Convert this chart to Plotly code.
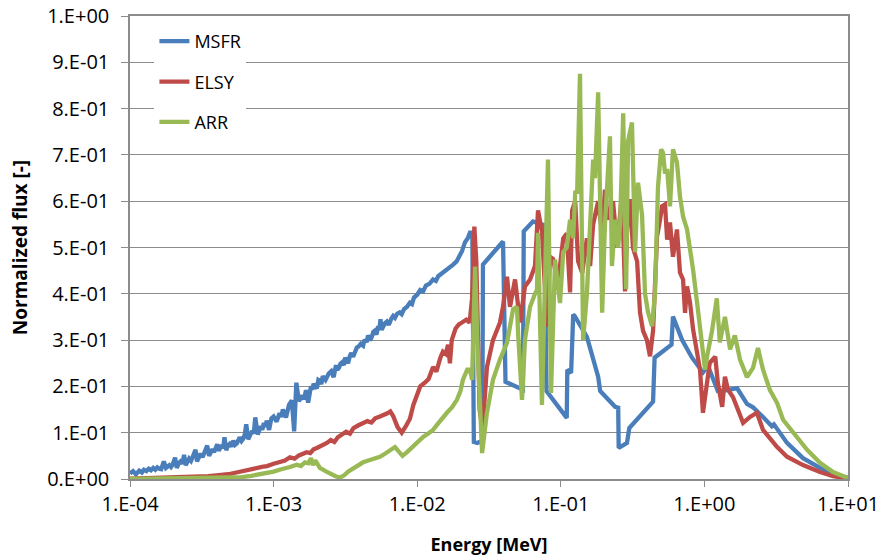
import plotly.graph_objects as go

# Neutron flux spectra (energy in MeV, flux normalised to the spectrum maximum)
msfr_energy = [
    1.00e-4, 1.05e-4, 1.10e-4, 1.16e-4, 1.21e-4, 1.25e-4, 1.30e-4, 1.35e-4, 1.40e-4, 1.45e-4,
    1.50e-4, 1.55e-4, 1.60e-4, 1.65e-4, 1.72e-4, 1.78e-4, 1.83e-4, 1.88e-4, 1.93e-4, 1.98e-4,
    2.06e-4, 2.12e-4, 2.18e-4, 2.25e-4, 2.32e-4, 2.38e-4, 2.44e-4, 2.51e-4, 2.58e-4, 2.66e-4,
    2.75e-4, 2.86e-4, 2.93e-4, 3.02e-4, 3.10e-4, 3.20e-4, 3.30e-4, 3.45e-4, 3.55e-4, 3.65e-4,
    3.75e-4, 3.85e-4, 3.95e-4, 4.05e-4, 4.15e-4, 4.25e-4, 4.35e-4, 4.45e-4, 4.55e-4, 4.68e-4,
    4.80e-4, 4.95e-4, 5.10e-4, 5.25e-4, 5.40e-4, 5.55e-4, 5.68e-4, 5.80e-4, 5.98e-4, 6.15e-4,
    6.30e-4, 6.45e-4, 6.65e-4, 6.88e-4, 7.10e-4, 7.28e-4, 7.45e-4, 7.75e-4, 7.95e-4, 8.15e-4,
    8.35e-4, 8.55e-4, 8.75e-4, 8.95e-4, 9.30e-4, 9.65e-4, 1.00e-3, 1.05e-3, 1.10e-3, 1.13e-3,
    1.16e-3, 1.22e-3, 1.28e-3, 1.34e-3, 1.39e-3, 1.44e-3, 1.50e-3, 1.54e-3, 1.58e-3, 1.63e-3,
    1.68e-3, 1.74e-3, 1.82e-3, 1.86e-3, 1.90e-3, 1.95e-3, 2.00e-3, 2.05e-3, 2.10e-3, 2.15e-3,
    2.20e-3, 2.30e-3, 2.36e-3, 2.42e-3, 2.52e-3, 2.62e-3, 2.72e-3, 2.78e-3, 2.85e-3, 2.92e-3,
    3.00e-3, 3.08e-3, 3.15e-3, 3.22e-3, 3.30e-3, 3.40e-3, 3.48e-3, 3.58e-3, 3.70e-3, 3.80e-3,
    3.90e-3, 4.05e-3, 4.20e-3, 4.30e-3, 4.45e-3, 4.55e-3, 4.70e-3, 4.80e-3, 4.95e-3, 5.05e-3,
    5.20e-3, 5.35e-3, 5.45e-3, 5.55e-3, 5.65e-3, 5.75e-3, 5.95e-3, 6.15e-3, 6.35e-3, 6.60e-3,
    6.80e-3, 7.00e-3, 7.25e-3, 7.55e-3, 7.80e-3, 8.10e-3, 8.50e-3, 8.90e-3, 9.20e-3, 9.50e-3,
    1.00e-2, 1.05e-2, 1.10e-2, 1.15e-2, 1.22e-2, 1.29e-2, 1.35e-2, 1.40e-2, 1.46e-2, 1.51e-2,
    1.58e-2, 1.65e-2, 1.72e-2, 1.78e-2, 1.88e-2, 1.98e-2, 2.05e-2, 2.15e-2, 2.25e-2, 2.33e-2,
    2.42e-2, 2.48e-2, 2.62e-2, 2.84e-2, 2.87e-2, 3.20e-2, 3.60e-2, 3.96e-2, 4.12e-2, 5.45e-2,
    5.52e-2, 6.40e-2, 7.70e-2, 7.95e-2, 1.10e-1, 1.11e-1, 1.18e-1, 1.22e-1, 1.25e-1, 1.52e-1,
    1.82e-1, 1.88e-1, 2.39e-1, 2.51e-1, 2.53e-1, 2.89e-1, 3.00e-1, 4.39e-1, 4.50e-1, 5.07e-1,
    5.60e-1, 5.90e-1, 6.04e-1, 7.00e-1, 8.20e-1, 9.77e-1, 1.06, 1.15, 1.24, 1.45,
    1.69, 1.98, 2.18, 2.56, 2.95, 3.05, 3.76, 4.86, 6.38, 7.87,
    10.0,
]
msfr_flux = [
    0.012, 0.017, 0.010, 0.018, 0.014, 0.020, 0.017, 0.022, 0.019, 0.024,
    0.020, 0.025, 0.022, 0.021, 0.038, 0.024, 0.027, 0.030, 0.026, 0.031,
    0.046, 0.024, 0.034, 0.038, 0.033, 0.052, 0.030, 0.040, 0.044, 0.039,
    0.050, 0.063, 0.038, 0.048, 0.055, 0.047, 0.058, 0.072, 0.050, 0.060,
    0.064, 0.058, 0.069, 0.075, 0.061, 0.068, 0.073, 0.066, 0.090, 0.062,
    0.072, 0.076, 0.070, 0.083, 0.074, 0.077, 0.086, 0.090, 0.082, 0.087,
    0.096, 0.118, 0.086, 0.097, 0.104, 0.098, 0.133, 0.096, 0.108, 0.114,
    0.106, 0.121, 0.113, 0.126, 0.106, 0.131, 0.135, 0.124, 0.142, 0.134,
    0.150, 0.133, 0.160, 0.170, 0.103, 0.208, 0.168, 0.176, 0.180, 0.172,
    0.192, 0.165, 0.200, 0.193, 0.206, 0.199, 0.196, 0.214, 0.212, 0.205,
    0.222, 0.214, 0.223, 0.228, 0.233, 0.220, 0.246, 0.236, 0.240, 0.249,
    0.252, 0.246, 0.262, 0.256, 0.250, 0.266, 0.272, 0.264, 0.277, 0.284,
    0.286, 0.292, 0.288, 0.301, 0.296, 0.310, 0.300, 0.305, 0.318, 0.320,
    0.312, 0.330, 0.322, 0.345, 0.322, 0.328, 0.336, 0.340, 0.333, 0.346,
    0.352, 0.348, 0.357, 0.360, 0.356, 0.367, 0.372, 0.381, 0.378, 0.392,
    0.398, 0.408, 0.405, 0.418, 0.422, 0.431, 0.428, 0.438, 0.442, 0.446,
    0.449, 0.455, 0.458, 0.463, 0.470, 0.481, 0.492, 0.511, 0.520, 0.532,
    0.532, 0.080, 0.078, 0.082, 0.463, 0.480, 0.498, 0.513, 0.210, 0.193,
    0.535, 0.556, 0.548, 0.190, 0.132, 0.236, 0.229, 0.355, 0.352, 0.307,
    0.221, 0.190, 0.156, 0.154, 0.067, 0.078, 0.110, 0.167, 0.262, 0.275,
    0.286, 0.290, 0.351, 0.300, 0.262, 0.230, 0.244, 0.215, 0.190, 0.192,
    0.196, 0.162, 0.155, 0.134, 0.114, 0.118, 0.078, 0.045, 0.024, 0.011,
    0.003,
]

elsy_energy = [
    1.0e-4, 1.5e-4, 2.0e-4, 2.5e-4, 3.0e-4, 3.5e-4, 4.0e-4, 4.5e-4, 5.0e-4, 5.5e-4,
    6.0e-4, 6.5e-4, 7.0e-4, 7.5e-4, 8.0e-4, 8.5e-4, 9.0e-4, 1.0e-3, 1.1e-3, 1.2e-3,
    1.3e-3, 1.4e-3, 1.5e-3, 1.6e-3, 1.7e-3, 1.8e-3, 1.9e-3, 2.0e-3, 2.1e-3, 2.2e-3,
    2.35e-3, 2.5e-3, 2.65e-3, 2.8e-3, 3.0e-3, 3.2e-3, 3.4e-3, 3.6e-3, 3.9e-3, 4.2e-3,
    4.5e-3, 4.8e-3, 5.1e-3, 5.5e-3, 5.9e-3, 6.2e-3, 6.5e-3, 6.8e-3, 7.3e-3, 7.8e-3,
    8.4e-3, 8.9e-3, 9.4e-3, 1.0e-2, 1.05e-2, 1.13e-2, 1.2e-2, 1.29e-2, 1.36e-2, 1.45e-2,
    1.51e-2, 1.58e-2, 1.64e-2, 1.69e-2, 1.74e-2, 1.85e-2, 1.95e-2, 2.05e-2, 2.2e-2, 2.32e-2,
    2.41e-2, 2.50e-2, 2.58e-2, 2.72e-2, 2.85e-2, 3.06e-2, 3.37e-2, 3.77e-2, 3.96e-2, 4.22e-2,
    4.43e-2, 4.80e-2, 5.20e-2, 5.63e-2, 6.11e-2, 6.61e-2, 6.94e-2, 7.39e-2, 8.01e-2, 8.41e-2,
    8.83e-2, 9.42e-2, 9.87e-2, 1.04e-1, 1.10e-1, 1.16e-1, 1.20e-1, 1.26e-1, 1.32e-1, 1.41e-1,
    1.52e-1, 1.60e-1, 1.68e-1, 1.82e-1, 1.94e-1, 2.03e-1, 2.13e-1, 2.31e-1, 2.47e-1, 2.67e-1,
    2.80e-1, 2.94e-1, 3.04e-1, 3.18e-1, 3.40e-1, 3.56e-1, 3.74e-1, 3.98e-1, 4.18e-1, 4.39e-1,
    4.68e-1, 4.91e-1, 5.07e-1, 5.32e-1, 5.50e-1, 5.76e-1, 6.04e-1, 6.44e-1, 6.76e-1, 7.10e-1,
    7.33e-1, 7.57e-1, 7.94e-1, 8.34e-1, 8.89e-1, 9.32e-1, 9.77e-1, 1.04, 1.09, 1.19,
    1.24, 1.33, 1.39, 1.46, 1.58, 1.71, 1.86, 2.08, 2.32, 2.56,
    3.21, 3.76, 4.86, 6.38, 7.87, 10.0,
]
elsy_flux = [
    0.001, 0.002, 0.003, 0.004, 0.005, 0.006, 0.008, 0.009, 0.011, 0.014,
    0.016, 0.018, 0.021, 0.022, 0.025, 0.027, 0.028, 0.033, 0.036, 0.040,
    0.047, 0.044, 0.051, 0.055, 0.058, 0.056, 0.064, 0.067, 0.070, 0.072,
    0.078, 0.084, 0.080, 0.090, 0.095, 0.102, 0.098, 0.110, 0.116, 0.120,
    0.125, 0.122, 0.131, 0.135, 0.138, 0.142, 0.146, 0.136, 0.112, 0.100,
    0.116, 0.130, 0.160, 0.180, 0.200, 0.208, 0.216, 0.242, 0.232, 0.262,
    0.275, 0.270, 0.290, 0.250, 0.300, 0.325, 0.334, 0.338, 0.344, 0.338,
    0.390, 0.545, 0.470, 0.150, 0.108, 0.242, 0.300, 0.338, 0.372, 0.437,
    0.372, 0.431, 0.338, 0.416, 0.431, 0.460, 0.580, 0.535, 0.329, 0.480,
    0.475, 0.431, 0.460, 0.520, 0.530, 0.403, 0.580, 0.600, 0.470, 0.445,
    0.520, 0.460, 0.550, 0.600, 0.530, 0.625, 0.560, 0.600, 0.500, 0.620,
    0.405, 0.600, 0.600, 0.500, 0.470, 0.360, 0.320, 0.300, 0.265, 0.320,
    0.524, 0.560, 0.589, 0.593, 0.517, 0.554, 0.480, 0.539, 0.446, 0.431,
    0.359, 0.416, 0.381, 0.323, 0.264, 0.236, 0.143, 0.208, 0.251, 0.264,
    0.208, 0.156, 0.221, 0.193, 0.177, 0.150, 0.121, 0.134, 0.143, 0.106,
    0.069, 0.048, 0.030, 0.015, 0.006, 0.001,
]

arr_energy = [
    1.0e-4, 2.0e-4, 3.0e-4, 4.0e-4, 5.0e-4, 6.0e-4, 7.0e-4, 8.0e-4, 9.0e-4, 1.0e-3,
    1.1e-3, 1.2e-3, 1.3e-3, 1.45e-3, 1.55e-3, 1.65e-3, 1.75e-3, 1.82e-3, 1.88e-3, 1.95e-3,
    2.1e-3, 2.3e-3, 2.5e-3, 2.7e-3, 2.9e-3, 3.1e-3, 3.3e-3, 3.7e-3, 4.2e-3, 4.8e-3,
    5.5e-3, 6.0e-3, 6.5e-3, 7.0e-3, 7.4e-3, 7.9e-3, 8.5e-3, 9.3e-3, 1.0e-2, 1.1e-2,
    1.2e-2, 1.29e-2, 1.4e-2, 1.5e-2, 1.61e-2, 1.75e-2, 1.89e-2, 2.0e-2, 2.08e-2, 2.23e-2,
    2.33e-2, 2.41e-2, 2.53e-2, 2.62e-2, 2.74e-2, 2.83e-2, 3.06e-2, 3.37e-2, 3.77e-2, 4.22e-2,
    4.65e-2, 4.95e-2, 5.04e-2, 5.37e-2, 5.63e-2, 6.11e-2, 6.61e-2, 6.83e-2, 6.94e-2, 7.39e-2,
    8.14e-2, 8.55e-2, 9.12e-2, 9.87e-2, 1.04e-1, 1.10e-1, 1.16e-1, 1.22e-1, 1.26e-1, 1.30e-1,
    1.36e-1, 1.43e-1, 1.52e-1, 1.60e-1, 1.68e-1, 1.73e-1, 1.82e-1, 1.94e-1, 2.03e-1, 2.20e-1,
    2.27e-1, 2.39e-1, 2.51e-1, 2.59e-1, 2.67e-1, 2.72e-1, 2.85e-1, 2.94e-1, 3.13e-1, 3.29e-1,
    3.45e-1, 3.68e-1, 3.86e-1, 4.05e-1, 4.32e-1, 4.53e-1, 4.75e-1, 4.99e-1, 5.15e-1, 5.32e-1,
    5.50e-1, 5.76e-1, 6.04e-1, 6.44e-1, 6.76e-1, 7.10e-1, 7.57e-1, 7.94e-1, 8.34e-1, 8.89e-1,
    9.32e-1, 9.77e-1, 1.01, 1.04, 1.13, 1.22, 1.28, 1.39, 1.51, 1.63,
    1.77, 1.98, 2.18, 2.36, 2.56, 2.86, 3.21, 3.53, 3.95, 4.42,
    5.19, 6.38, 7.87, 10.0,
]
arr_flux = [
    0.000, 0.001, 0.001, 0.002, 0.003, 0.004, 0.007, 0.010, 0.013, 0.016,
    0.020, 0.022, 0.026, 0.031, 0.028, 0.036, 0.034, 0.045, 0.030, 0.040,
    0.024, 0.017, 0.011, 0.006, 0.003, 0.008, 0.016, 0.026, 0.036, 0.042,
    0.048, 0.055, 0.063, 0.069, 0.060, 0.050, 0.058, 0.069, 0.080, 0.091,
    0.099, 0.106, 0.120, 0.132, 0.143, 0.155, 0.171, 0.190, 0.214, 0.236,
    0.236, 0.214, 0.459, 0.300, 0.120, 0.056, 0.143, 0.214, 0.258, 0.294,
    0.366, 0.372, 0.316, 0.171, 0.301, 0.372, 0.400, 0.409, 0.532, 0.160,
    0.690, 0.186, 0.474, 0.380, 0.490, 0.500, 0.560, 0.520, 0.619, 0.620,
    0.875, 0.300, 0.400, 0.550, 0.690, 0.650, 0.835, 0.359, 0.550, 0.740,
    0.460, 0.560, 0.500, 0.550, 0.690, 0.790, 0.410, 0.730, 0.770, 0.490,
    0.640, 0.570, 0.400, 0.360, 0.330, 0.400, 0.630, 0.712, 0.705, 0.660,
    0.670, 0.589, 0.712, 0.684, 0.610, 0.567, 0.539, 0.502, 0.452, 0.381,
    0.323, 0.270, 0.236, 0.262, 0.320, 0.390, 0.295, 0.350, 0.280, 0.310,
    0.258, 0.220, 0.240, 0.283, 0.236, 0.192, 0.164, 0.128, 0.110, 0.090,
    0.063, 0.035, 0.015, 0.002,
]

series_names = ["MSFR", "ELSY", "ARR"]
series_colors = ["#4A7EBB", "#BE4B48", "#98B954"]

x_tick_values = [1e-4, 1e-3, 1e-2, 1e-1, 1e0, 1e1]
x_tick_labels = ["1.E-04", "1.E-03", "1.E-02", "1.E-01", "1.E+00", "1.E+01"]
y_tick_values = [0.0, 0.1, 0.2, 0.3, 0.4, 0.5, 0.6, 0.7, 0.8, 0.9, 1.0]
y_tick_labels = ["0.E+00", "1.E-01", "2.E-01", "3.E-01", "4.E-01", "5.E-01",
                 "6.E-01", "7.E-01", "8.E-01", "9.E-01", "1.E+00"]

FONT = "'Open Sans', sans-serif"
GRID = "#8C8C8C"

fig = go.Figure()
for name, color, xs, ys in zip(
    series_names,
    series_colors,
    [msfr_energy, elsy_energy, arr_energy],
    [msfr_flux, elsy_flux, arr_flux],
):
    fig.add_trace(go.Scatter(
        x=xs, y=ys, name=name, mode="lines", legendgroup=name,
        line=dict(color=color, width=4.3),
    ))

fig.update_layout(
    width=882, height=559,
    margin=dict(l=130, r=34, t=16, b=80, pad=0),
    paper_bgcolor="white", plot_bgcolor="white",
    font=dict(family=FONT, size=18, color="#000000"),
    showlegend=True,
    legend=dict(
        x=0.034, y=0.985, xanchor="left", yanchor="top",
        bgcolor="white", borderwidth=0,
        font=dict(family=FONT, size=18),
        tracegroupgap=14,
    ),
    xaxis=dict(
        type="log", range=[-4, 1], automargin=False,
        tickvals=x_tick_values, ticktext=x_tick_labels,
        tickfont=dict(size=20),
        showgrid=False, zeroline=False,
        showline=True, linecolor=GRID, linewidth=1.5, mirror=True,
        ticks="outside", ticklen=6, tickcolor=GRID,
        title=dict(text="<b>Energy [MeV]</b>", font=dict(size=18), standoff=23),
    ),
    yaxis=dict(
        range=[0, 1], automargin=False,
        tickvals=y_tick_values, ticktext=y_tick_labels,
        tickfont=dict(size=20),
        showgrid=True, gridcolor=GRID, gridwidth=1.2, zeroline=False,
        showline=True, linecolor=GRID, linewidth=1.5, mirror=True,
        ticks="outside", ticklen=7, tickcolor=GRID,
        ticklabelstandoff=8,
        title=dict(text="<b>Normalized flux [-]</b>", font=dict(size=19), standoff=14),
    ),
)

fig.write_html("out.html")
